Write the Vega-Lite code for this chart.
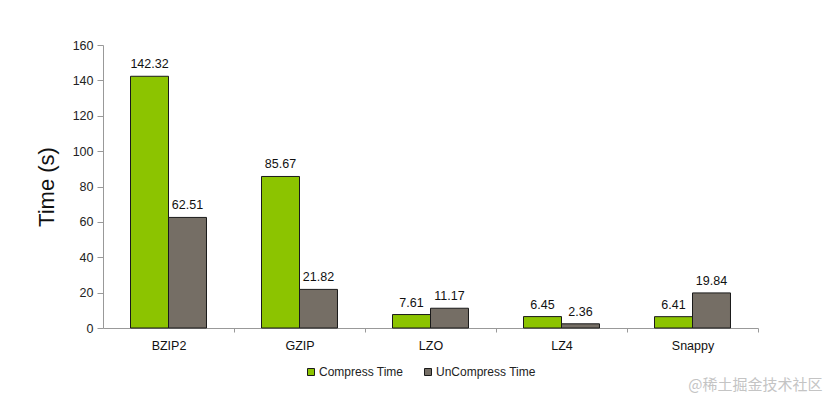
{
  "$schema": "https://vega.github.io/schema/vega-lite/v6.json",
  "autosize": "none",
  "width": 655,
  "height": 283,
  "padding": {"left": 103, "top": 45, "right": 79, "bottom": 81},
  "background": "white",
  "config": {"view": {"stroke": null}, "font": "Liberation Sans"},
  "title": {
    "text": "@稀土掘金技术社区",
    "orient": "bottom",
    "anchor": "end",
    "font": "Noto Sans CJK SC",
    "fontSize": 15,
    "fontWeight": "normal",
    "color": "#c4c4c4",
    "dx": 64,
    "offset": 0
  },
  "data": {
    "values": [
      {"algo": "BZIP2", "type": "Compress Time", "time": 142.32},
      {"algo": "BZIP2", "type": "UnCompress Time", "time": 62.51},
      {"algo": "GZIP", "type": "Compress Time", "time": 85.67},
      {"algo": "GZIP", "type": "UnCompress Time", "time": 21.82},
      {"algo": "LZO", "type": "Compress Time", "time": 7.61},
      {"algo": "LZO", "type": "UnCompress Time", "time": 11.17},
      {"algo": "LZ4", "type": "Compress Time", "time": 6.45},
      {"algo": "LZ4", "type": "UnCompress Time", "time": 2.36},
      {"algo": "Snappy", "type": "Compress Time", "time": 6.41},
      {"algo": "Snappy", "type": "UnCompress Time", "time": 19.84}
    ]
  },
  "encoding": {
    "x": {
      "field": "algo",
      "type": "nominal",
      "sort": ["BZIP2", "GZIP", "LZO", "LZ4", "Snappy"],
      "scale": {"paddingInner": 0.42, "paddingOuter": 0.21},
      "axis": {
        "title": null,
        "labelAngle": 0,
        "labelFontSize": 12.5,
        "labelColor": "#111",
        "labelPadding": 7,
        "domainColor": "#999",
        "tickColor": "#999",
        "tickSize": 4,
        "tickOffset": 65.5,
        "labelOffset": -65.5
      }
    },
    "xOffset": {
      "field": "type",
      "type": "nominal",
      "scale": {"paddingInner": 0, "paddingOuter": 0}
    },
    "y": {
      "field": "time",
      "type": "quantitative",
      "scale": {"domain": [0, 160], "nice": false},
      "axis": {
        "title": "Time (s)",
        "titleFontSize": 22,
        "titleFontWeight": "normal",
        "titleColor": "#111",
        "titlePadding": 14,
        "values": [0, 20, 40, 60, 80, 100, 120, 140, 160],
        "labelFontSize": 12.5,
        "labelColor": "#222",
        "labelPadding": 4,
        "domainColor": "#999",
        "tickColor": "#999",
        "tickSize": 6,
        "grid": false
      }
    }
  },
  "layer": [
    {
      "mark": {"type": "bar", "stroke": "#1a1a1a", "strokeWidth": 1},
      "encoding": {
        "color": {
          "field": "type",
          "type": "nominal",
          "scale": {"domain": ["Compress Time", "UnCompress Time"], "range": ["#8cc400", "#756e65"]},
          "legend": {
            "title": null,
            "orient": "none",
            "legendX": 202,
            "legendY": 321,
            "direction": "horizontal",
            "symbolType": "square",
            "symbolSize": 49,
            "symbolStrokeColor": "#1a1a1a",
            "symbolStrokeWidth": 1,
            "labelFontSize": 12,
            "labelColor": "#222",
            "labelOffset": 2,
            "columnPadding": 18
          }
        }
      }
    },
    {
      "mark": {"type": "text", "dy": -8, "fontSize": 12.5, "color": "#111", "baseline": "alphabetic"},
      "encoding": {
        "text": {"field": "time", "type": "quantitative", "format": ".2f"}
      }
    }
  ]
}
